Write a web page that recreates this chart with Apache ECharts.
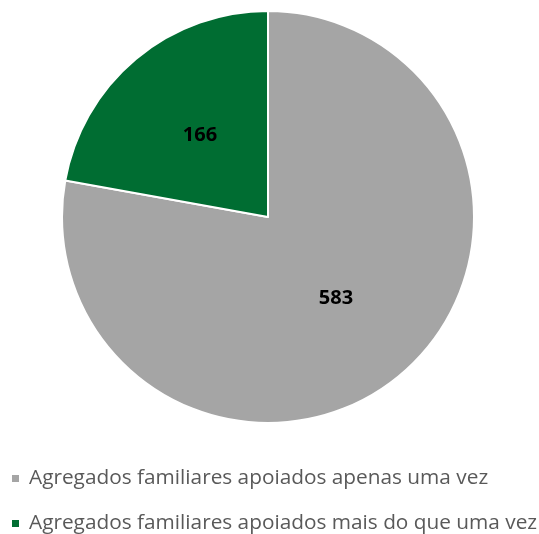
<!DOCTYPE html>
<html>
<head>
<meta charset="utf-8">
<script src="https://cdn.jsdelivr.net/npm/echarts@6/dist/echarts.min.js"></script>
<style>
  html, body { margin: 0; padding: 0; background: #fff; }
  #chart { width: 539px; height: 534px; }
</style>
</head>
<body>
<div id="chart"></div>
<script>
// Agregados familiares por número de apoios
const categories = [
  'Agregados familiares apoiados apenas uma vez',
  'Agregados familiares apoiados mais do que uma vez'
];
const values = [583, 166];
const colors = ['#a5a5a5', '#006d32'];

// one legend row per category, stacked at the bottom
const legendTops = [463, 508];
const legends = categories.map((name, i) => ({
  left: 5,
  top: legendTops[i],
  icon: 'rect',
  itemWidth: 9,
  itemHeight: 9,
  itemGap: 0,
  textStyle: { fontFamily: 'Open Sans', fontSize: 20.8, color: '#595959', padding: [0, 0, 0, 4] },
  data: [name]
}));

const chart = echarts.init(document.getElementById('chart'));
chart.setOption({
  animation: false,
  color: colors,
  legend: legends,
  series: [{
    type: 'pie',
    center: [268, 217],
    radius: [0, 206],
    startAngle: 90,
    clockwise: true,
    itemStyle: { borderColor: '#ffffff', borderWidth: 2 },
    label: {
      position: 'inner',
      formatter: '{c}',
      fontFamily: 'Open Sans',
      fontWeight: 'bold',
      fontSize: 20,
      color: '#000000'
    },
    labelLine: { show: false },
    emphasis: { disabled: true },
    data: categories.map((name, i) => ({ name, value: values[i] }))
  }]
});
</script>
</body>
</html>
